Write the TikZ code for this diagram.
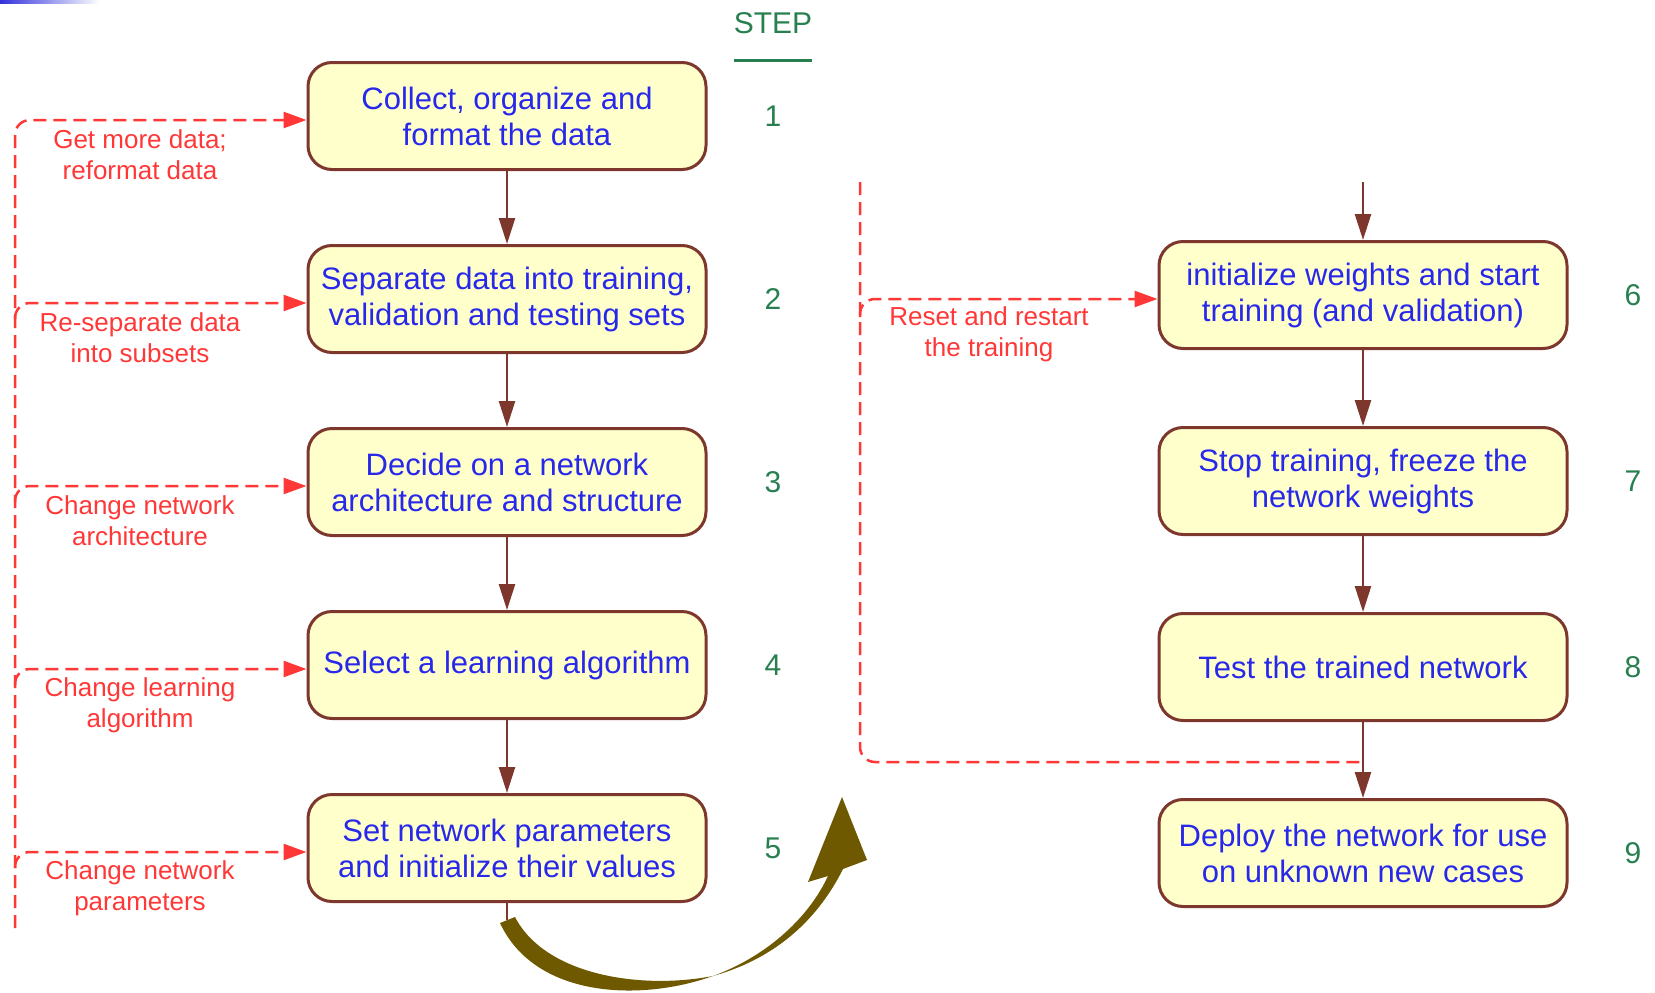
\documentclass[tikz,border=0pt]{standalone}
\usepackage{fontspec}
\setmainfont{Liberation Sans}
\usetikzlibrary{shapes,arrows.meta,positioning}

\definecolor{boxfill}{RGB}{255,255,204}
\definecolor{boxline}{RGB}{125,55,45}
\definecolor{boxtext}{RGB}{40,40,235}
\definecolor{fbred}{RGB}{255,55,55}
\definecolor{stepgreen}{RGB}{40,128,80}
\definecolor{olivearrow}{RGB}{110,88,0}
\definecolor{topblue}{RGB}{50,50,220}

\begin{document}
\begin{tikzpicture}[x=1pt, y=-1pt,
    block/.style={rectangle, rounded corners=24pt, draw=boxline, line width=3pt, fill=boxfill, text=boxtext, align=center, minimum width=398pt, minimum height=107pt, font=\fontsize{31}{36}\selectfont},
    wblock/.style={block, minimum width=408pt},
    arrow/.style={-{Triangle[length=26pt,width=16pt]}, draw=boxline, line width=2.5pt},
    fback/.style={-{Triangle[length=23pt,width=16pt]}, draw=fbred, line width=2.5pt, dash pattern=on 13pt off 7pt, rounded corners=15pt},
    note/.style={text=fbred, align=center, font=\fontsize{26}{31}\selectfont},
    num/.style={text=stepgreen, font=\fontsize{30}{36}\selectfont}]

    \useasboundingbox (0,0) rectangle (1655,993);
    \shade[left color=topblue, right color=white] (0,0) rectangle (100,3);

    % left column
    \node[block] (b1) at (507,116) {Collect, organize and\\format the data};
    \node[block, below=73pt of b1] (b2) {Separate data into training,\\validation and testing sets};
    \node[block, below=73pt of b2] (b3) {Decide on a network\\architecture and structure};
    \node[block, below=73pt of b3] (b4) {Select a learning algorithm};
    \node[block, below=73pt of b4] (b5) {Set network parameters\\and initialize their values};

    % right column
    \node[wblock] (b6) at (1363,295) {initialize weights and start\\training (and validation)};
    \node[wblock, below=76pt of b6] (b7) {Stop training, freeze the\\network weights};
    \node[wblock, below=76pt of b7] (b8) {Test the trained network};
    \node[wblock, below=76pt of b8] (b9) {Deploy the network for use\\on unknown new cases};

    % step numbers
    \node[num, inner sep=0pt] (stp) at (773,23) {STEP};
    \draw[stepgreen, line width=3pt] ([yshift=-27pt]stp.south west) -- ([yshift=-27pt]stp.south east);
    \coordinate (lcol) at (773,0);
    \coordinate (rcol) at (1633,0);
    \foreach \i in {1,...,5} \node[num] (n\i) at (b\i -| lcol) {\i};
    \foreach \i in {6,...,9} \node[num] (n\i) at (b\i -| rcol) {\i};

    % feedback loops
    \coordinate (lbot) at (15,928);
    \draw[fback] (lbot) |- ([yshift=-4pt]b1.west);
    \foreach \i in {2,...,5}
        \draw[fback] (lbot |- b\i.west) ++(0,20) |- ([yshift=-4pt]b\i.west);

    \coordinate (rtop) at (860,182);
    \coordinate (fbend) at (1363,762);
    \draw[fback, -] (rtop) |- (fbend);
    \draw[fback] (rtop |- b6.west) ++(0,22) |- ([yshift=-4pt]b6.west);

    \node[note] (l1) at (140,155) {Get more data;\\reformat data};
    \node[note] (l2) at (140,338) {Re-separate data\\into subsets};
    \node[note] (l3) at (140,521) {Change network\\architecture};
    \node[note] (l4) at (140,705) {Change learning\\algorithm};
    \node[note] (l5) at (140,888) {Change network\\parameters};
    \node[note] (l6) at (989,334) {Reset and restart\\the training};

    % main flow
    \draw[arrow] (b1) -- (b2);
    \draw[arrow] (b2) -- (b3);
    \draw[arrow] (b3) -- (b4);
    \draw[arrow] (b4) -- (b5);
    \coordinate (intop) at (1363,182);
    \draw[arrow] (intop) -- (b6);
    \draw[arrow] (b6) -- (b7);
    \draw[arrow] (b7) -- (b8);
    \draw[arrow] (b8) -- (b9);

    % jump to the right column
    \coordinate (tail) at (507,920);
    \draw[boxline, line width=2.5pt] (b5) -- (tail);
    \fill[olivearrow] (500,923) .. controls (535,998) and (640,1002) .. (713,976)
        .. controls (770,955) and (810,915) .. (828,876) -- (808,882) -- (842,797) -- (867,860) -- (843,869)
        .. controls (815,925) and (770,960) .. (713,976)
        .. controls (640,990) and (545,975) .. (515,917) -- cycle;
\end{tikzpicture}
\end{document}
